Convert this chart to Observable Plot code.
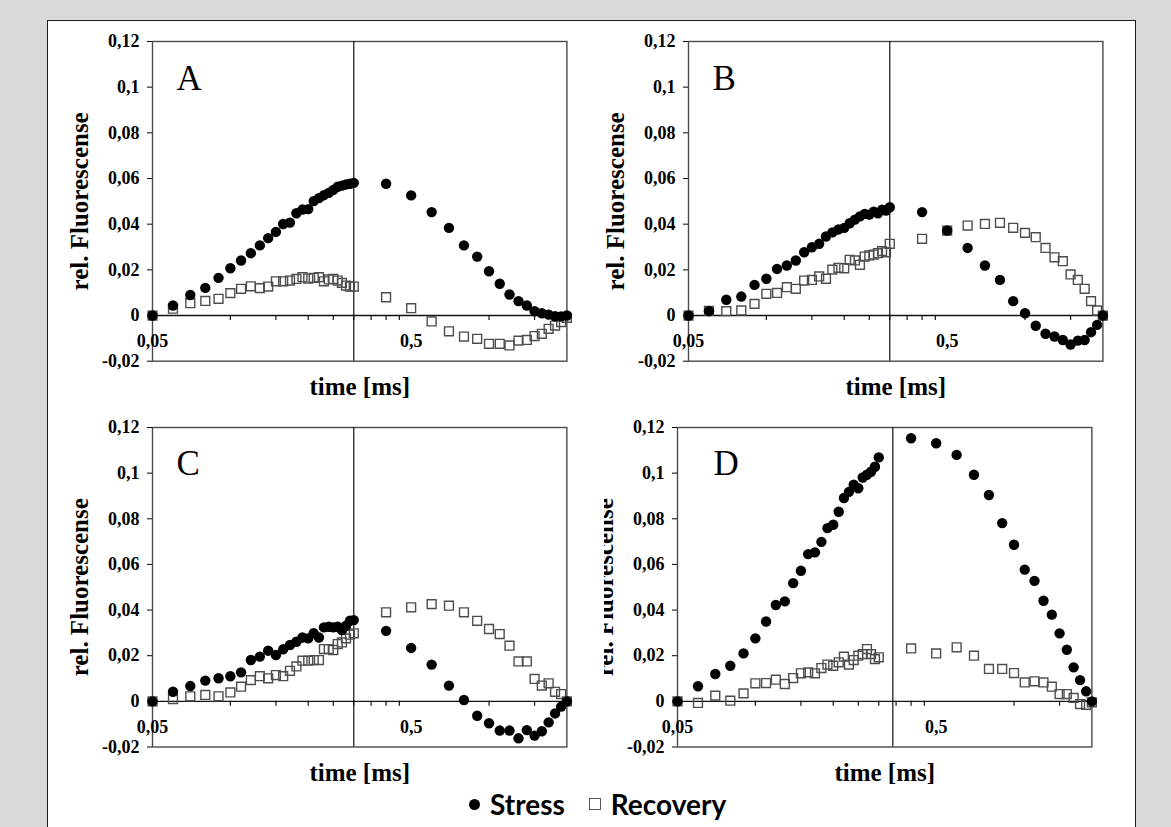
<!DOCTYPE html>
<html>
<head>
<meta charset="utf-8">
<script src="https://cdn.jsdelivr.net/npm/d3@7"></script>
<script src="https://cdn.jsdelivr.net/npm/@observablehq/plot@0.6"></script>
<style>
  html, body { margin: 0; padding: 0; }
  body { width: 1171px; height: 827px; background: #d9d9d9; position: relative; overflow: hidden; }
  #card { position: absolute; left: 47px; top: 20px; width: 1089px; height: 830px; background: #fff; border: 1.5px solid #1a1a1a; box-sizing: border-box; }
  .panel { position: absolute; }
  #legend { position: absolute; left: 469px; top: 785px; height: 38px; display: flex; align-items: center;
            font-family: Lato, "Open Sans", sans-serif; font-weight: 700; font-size: 28px; color: #000; white-space: nowrap; }
  #legend .dot { width: 11px; height: 11px; border-radius: 50%; background: #000; display: inline-block; margin-right: 10px; }
  #legend .sq { width: 10px; height: 10px; border: 1.5px solid #555; display: inline-block; margin-left: 24px; margin-right: 10px; }
</style>
</head>
<body>
<div id="card"></div>
<div id="panels"></div>
<div id="legend"><span class="dot"></span><span>Stress</span><span class="sq"></span><span>Recovery</span></div>
<script>
// ---- data ----
const time = [0.05, 0.06, 0.07, 0.08, 0.09, 0.10, 0.11, 0.12, 0.13, 0.14, 0.15, 0.16, 0.17, 0.18, 0.19, 0.20,
  0.21, 0.22, 0.23, 0.24, 0.25, 0.26, 0.27, 0.28, 0.29, 0.30,
  0.4, 0.5, 0.6, 0.7, 0.8, 0.9, 1.0, 1.1, 1.2, 1.3, 1.4, 1.5, 1.6, 1.7, 1.8, 1.9, 2.0];

const stressA = [0, 0.0044, 0.009, 0.0121, 0.0165, 0.0207, 0.0241, 0.0273, 0.0307, 0.0339,
  0.0366, 0.0401, 0.0407, 0.0448, 0.0464, 0.0466, 0.0501, 0.0514, 0.0527, 0.0537,
  0.055, 0.0564, 0.0569, 0.0574, 0.0577, 0.0581,
  0.0577, 0.0526, 0.0453, 0.0384, 0.0307, 0.0258, 0.0194, 0.0139, 0.0092, 0.0063,
  0.0044, 0.0019, 0.001, 0.0004, -0.0003, -0.0004, 0];
const recoveryA = [0, 0.003, 0.0054, 0.0064, 0.0073, 0.0098, 0.0117, 0.0128, 0.012, 0.0127,
  0.015, 0.015, 0.0153, 0.016, 0.0168, 0.0162, 0.0165, 0.0168, 0.015, 0.0158,
  0.016, 0.0153, 0.0143, 0.0131, 0.0127, 0.0127,
  0.008, 0.0032, -0.0026, -0.0069, -0.0092, -0.0102, -0.0124, -0.0124, -0.0131, -0.011,
  -0.0107, -0.009, -0.008, -0.0058, -0.0044, -0.0029, -0.001];

const stressB = [0, 0.0019, 0.0069, 0.0083, 0.0134, 0.0161, 0.0204, 0.0219, 0.0241, 0.0277,
  0.0299, 0.0314, 0.0346, 0.0364, 0.0377, 0.0384, 0.0404, 0.042, 0.0434, 0.0445,
  0.0442, 0.0455, 0.0448, 0.0463, 0.046, 0.0474,
  0.0453, 0.0372, 0.0296, 0.0219, 0.0156, 0.0063, 0.001, -0.0045, -0.008, -0.0092,
  -0.0107, -0.0127, -0.011, -0.0107, -0.0073, -0.0041, 0];
const recoveryB = [0, 0.002, 0.0019, 0.0022, 0.0051, 0.0095, 0.0099, 0.0124, 0.0117, 0.0153,
  0.0156, 0.0171, 0.0161, 0.0201, 0.0209, 0.0207, 0.0244, 0.0241, 0.0222, 0.0258,
  0.0263, 0.0267, 0.0273, 0.0282, 0.0277, 0.0314,
  0.0336, 0.0372, 0.0394, 0.0401, 0.0406, 0.0384, 0.0362, 0.0343, 0.0296, 0.0255,
  0.0238, 0.018, 0.0156, 0.0117, 0.0063, 0.0022, 0];

const stressC = [0, 0.0042, 0.0067, 0.0091, 0.0101, 0.011, 0.0127, 0.0181, 0.0196, 0.0222,
  0.0203, 0.0228, 0.0247, 0.0261, 0.028, 0.0276, 0.0299, 0.028, 0.0324, 0.0327,
  0.0324, 0.0327, 0.0312, 0.0331, 0.0353, 0.0356,
  0.0309, 0.0234, 0.0161, 0.0069, 0.0006, -0.0063, -0.0096, -0.0128, -0.0128, -0.0162,
  -0.0126, -0.015, -0.0131, -0.0092, -0.0053, -0.0023, 0];
const recoveryC = [0, 0.001, 0.0022, 0.0028, 0.0022, 0.0039, 0.0064, 0.0093, 0.011, 0.0101,
  0.0115, 0.011, 0.0134, 0.0153, 0.0178, 0.0178, 0.0181, 0.0181, 0.0229, 0.0229,
  0.0225, 0.0251, 0.0258, 0.0276, 0.0292, 0.0298,
  0.039, 0.0412, 0.0426, 0.0419, 0.039, 0.0353, 0.0317, 0.0295, 0.0244, 0.0175,
  0.0175, 0.0098, 0.0069, 0.0079, 0.0042, 0.0032, 0];

const stressD = [0, 0.0066, 0.012, 0.0156, 0.021, 0.0276, 0.035, 0.0422, 0.0438, 0.0518,
  0.0572, 0.0645, 0.0653, 0.0699, 0.0759, 0.0774, 0.0831, 0.0891, 0.0918, 0.0949,
  0.0934, 0.0981, 0.0993, 0.1006, 0.1028, 0.1069,
  0.1153, 0.1131, 0.108, 0.0993, 0.0904, 0.0781, 0.0686, 0.0577, 0.0528, 0.0441,
  0.038, 0.0298, 0.0226, 0.0149, 0.0093, 0.0044, 0];
const recoveryD = [0, -0.0007, 0.0025, 0.0003, 0.0035, 0.0079, 0.008, 0.0095, 0.0076, 0.0102,
  0.0123, 0.0127, 0.0123, 0.0146, 0.0161, 0.0156, 0.0171, 0.0196, 0.0161, 0.0181,
  0.02, 0.0207, 0.0229, 0.0207, 0.0185, 0.0193,
  0.0232, 0.021, 0.0237, 0.02, 0.0142, 0.0142, 0.0124, 0.0083, 0.0088, 0.0083,
  0.0064, 0.0032, 0.0032, 0.0015, -0.0012, -0.0015, -0.0004];

const panelLetters = ["A", "B", "C", "D"];
const dividerTimes = [0.3, 0.3, 0.3, 0.34];
const yTicks = [-0.02, 0, 0.02, 0.04, 0.06, 0.08, 0.1, 0.12];
const xTickLabels = [0.05, 0.5];
const xMinorTicks = [0.1, 0.15, 0.2, 0.25, 0.3, 0.35, 0.4, 0.45, 1.0, 1.5];
const xTitle = "time [ms]";
const yTitle = "rel. Fluorescense";
const legendLabels = ["Stress", "Recovery"];

// ---- layout (page pixels of each plot frame) ----
const layout = [
  {L: 152.3, R: 566.7, T: 41, B: 360.7, letterDx: 24, letterDy: 49, clipLeft: null},
  {L: 687.7, R: 1102.1, T: 41, B: 360.7, letterDx: 24, letterDy: 49, clipLeft: null},
  {L: 152.3, R: 566.7, T: 426.5, B: 746, letterDx: 24, letterDy: 47.5, clipLeft: null},
  {L: 676.7, R: 1091.1, T: 426.5, B: 746, letterDx: 36, letterDy: 47.5, clipLeft: 604}
];
const series = [[stressA, recoveryA], [stressB, recoveryB], [stressC, recoveryC], [stressD, recoveryD]];

const fmt = d => d === 0 ? "0" : String(d).replace(".", ",");
const serif = "'Liberation Serif', 'Times New Roman', serif";

const host = document.getElementById("panels");
const mL = 100, mR = 14, mT = 14, mB = 62;

layout.forEach((p, k) => {
  const [stress, recovery] = series[k];
  const rows = time.map((t, i) => ({t, s: stress[i], r: recovery[i]}));
  const w = p.R - p.L, h = p.B - p.T;
  const W = w + mL + mR, H = h + mT + mB;
  const chart = Plot.plot({
    width: W, height: H,
    marginLeft: mL, marginRight: mR, marginTop: mT, marginBottom: mB,
    style: {fontFamily: serif, fontWeight: "bold", fontSize: "18px", color: "#000", background: "transparent", overflow: "visible"},
    x: {type: "log", domain: [0.05, 2], axis: null},
    y: {domain: [-0.02, 0.12], ticks: yTicks, tickFormat: fmt, tickSize: 5, tickPadding: 8, label: null},
    marks: [
      Plot.frame({stroke: "#4a4a4a", strokeWidth: 1.4}),
      Plot.ruleY([0], {stroke: "#111", strokeWidth: 1.3}),
      Plot.ruleX(xMinorTicks, {x: d => d, y1: 0, y2: 0, insetBottom: -5, stroke: "#111", strokeWidth: 1.2}),
      Plot.ruleX([dividerTimes[k]], {stroke: "#111", strokeWidth: 1.2}),
      Plot.text(xTickLabels, {x: d => d, y: 0, dy: 26, text: fmt, fontSize: 18, fontWeight: "bold", fontFamily: serif}),
      Plot.text([panelLetters[k]], {frameAnchor: "top-left", dx: p.letterDx, dy: p.letterDy, textAnchor: "start", lineAnchor: "bottom",
        fontSize: 35, fontWeight: "normal", fontFamily: serif}),
      Plot.text([xTitle], {frameAnchor: "bottom", dy: 34, fontSize: 25, fontWeight: "bold", fontFamily: serif}),
      Plot.text([yTitle], {frameAnchor: "left", dx: -73, rotate: -90, textAnchor: "middle", fontSize: 25, fontWeight: "bold", fontFamily: serif}),
      Plot.dot(rows, {x: "t", y: "r", symbol: "square", r: 5, stroke: "#4d4d4d", strokeWidth: 1.4, fill: "none"}),
      Plot.dot(rows, {x: "t", y: "s", r: 5.2, fill: "#000", stroke: "none"})
    ]
  });
  const div = document.createElement("div");
  div.className = "panel";
  const left = p.L - mL, top = p.T - mT;
  div.style.left = left + "px";
  div.style.top = top + "px";
  div.style.width = W + "px";
  div.style.height = H + "px";
  if (p.clipLeft != null) div.style.clipPath = `inset(0 0 0 ${p.clipLeft - left}px)`;
  div.appendChild(chart);
  host.appendChild(div);
});
</script>
</body>
</html>
